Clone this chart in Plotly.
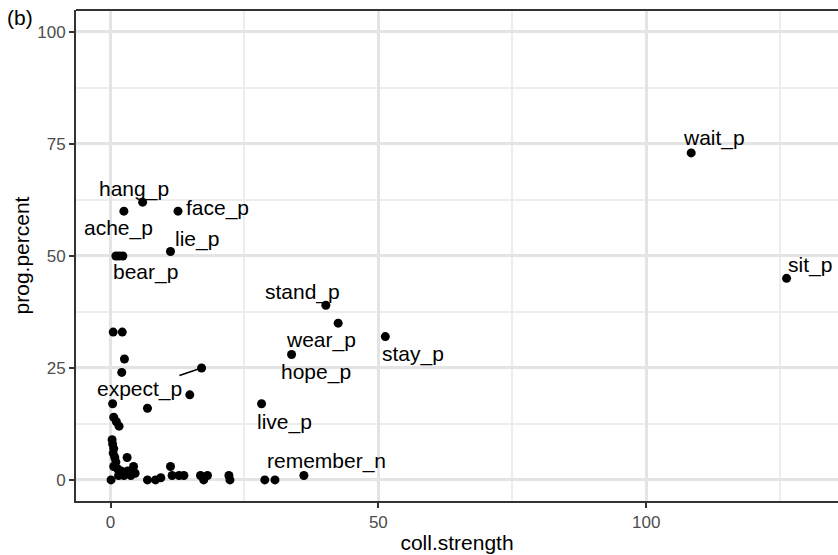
import plotly.graph_objects as go

# labeled points
label_names = ["wait_p", "sit_p", "hang_p", "ache_p", "face_p", "lie_p", "bear_p",
               "stand_p", "wear_p", "hope_p", "stay_p", "live_p", "remember_n", "expect_p"]
label_x = [108.4, 126.2, 6.0, 2.5, 12.6, 11.2, 2.3, 40.2, 42.5, 33.8, 51.3, 28.2, 36.1, 17.0]
label_y = [73, 45, 62, 60, 60, 51, 50, 39, 35, 28, 32, 17, 1, 25]

# unlabeled points
other_x = [1.0, 1.6, 14.8, 6.9, 0.5, 2.2, 2.6, 2.1, 0.4, 0.6, 1.1, 1.6,
           0.3, 0.4, 0.6, 0.5, 0.8, 1.0, 0.6, 1.3,
           2.0, 2.5, 3.2, 3.8, 1.5, 4.3, 3.1, 4.6,
           0.1, 6.9, 8.4, 9.4, 11.2, 11.5, 12.8, 13.7, 16.8, 18.1, 17.4,
           22.1, 22.3, 28.8, 30.7]
other_y = [50, 50, 19, 16, 33, 33, 27, 24, 17, 14, 13, 12,
           9, 8, 7, 6, 5, 4, 3, 2.5,
           2, 1, 2, 1, 1, 3, 5, 1.5,
           0, 0, 0, 0.5, 3, 1, 1, 1, 1, 1, 0,
           1, 0, 0, 0]

# label offsets in pixels (dx, dy up)
label_dx = [23, 23, -9, -5, 39, 26, 23, -23, -17, 24, 28, 23, 23, -62]
label_dy = [15, 13, 13, -17, 3, 12, -16, 13, -17, -17, -17, -18, 14, -21]

FONT = "Liberation Sans, Arial, sans-serif"

fig = go.Figure()
fig.add_trace(go.Scatter(x=other_x + label_x, y=other_y + label_y, mode="markers",
                         marker=dict(size=9, color="black"), hoverinfo="skip",
                         showlegend=False))

for name, x, y, dx, dy in zip(label_names, label_x, label_y, label_dx, label_dy):
    if name == "expect_p":
        fig.add_annotation(x=x, y=y, text=name, showarrow=True, arrowhead=0,
                           arrowwidth=1.5, arrowcolor="black", ax=dx, ay=-dy,
                           standoff=4, font=dict(size=21, color="black", family=FONT))
    else:
        fig.add_annotation(x=x, y=y, text=name, showarrow=False, xshift=dx, yshift=dy,
                           font=dict(size=21, color="black", family=FONT))

fig.add_annotation(x=-0.093, y=0.984, xref="paper", yref="paper", text="(b)",
                   showarrow=False, xanchor="left", yanchor="middle",
                   font=dict(size=21, color="black", family=FONT))

# top border
fig.add_shape(type="line", xref="paper", yref="paper", x0=0, x1=1, y0=1, y1=1,
              line=dict(color="#333333", width=2))

axis_common = dict(showline=True, linecolor="#333333", linewidth=2,
                   ticks="outside", ticklen=5, tickwidth=1.5, tickcolor="#333333",
                   tickfont=dict(size=17, color="#4d4d4d", family=FONT),
                   showgrid=True, gridcolor="#e4e4e4", gridwidth=2.5,
                   zeroline=False, automargin=False)

fig.update_layout(
    width=838, height=555,
    margin=dict(l=76, r=0, t=10, b=54),
    plot_bgcolor="white", paper_bgcolor="white",
    font=dict(family=FONT),
    xaxis=dict(range=[-6.44, 135.8], tickvals=[0, 50, 100],
               minor=dict(tickvals=[25, 75, 125], showgrid=True, gridcolor="#ededed",
                          gridwidth=1.5, ticks=""),
               title=dict(text="coll.strength", standoff=4,
                          font=dict(size=21, color="black", family=FONT)),
               **axis_common),
    yaxis=dict(range=[-4.7, 104.9], tickvals=[0, 25, 50, 75, 100],
               minor=dict(tickvals=[12.5, 37.5, 62.5, 87.5], showgrid=True,
                          gridcolor="#ededed", gridwidth=1.5, ticks=""),
               title=dict(text="prog.percent", standoff=2,
                          font=dict(size=21, color="black", family=FONT)),
               **axis_common),
)

fig.write_html("out.html")
